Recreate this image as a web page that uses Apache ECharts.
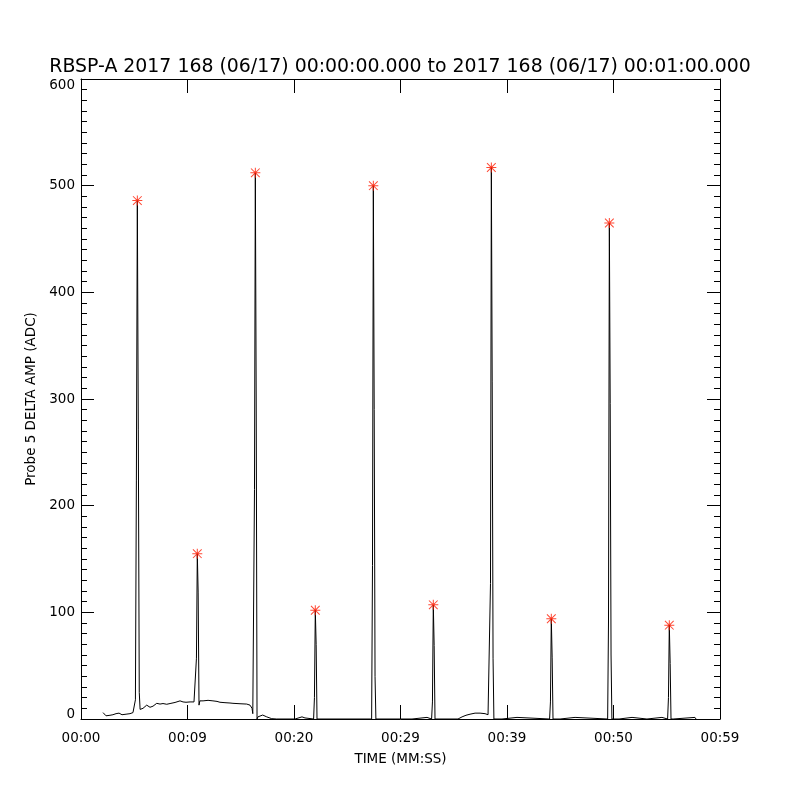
<!DOCTYPE html>
<html>
<head>
<meta charset="utf-8">
<title>RBSP-A Probe 5 delta amp</title>
<script src="https://cdn.jsdelivr.net/npm/echarts@6/dist/echarts.min.js"></script>
<style>
  html, body { margin: 0; padding: 0; background: #fff; }
  #chart { width: 800px; height: 800px; }
</style>
</head>
<body>
<div id="chart"></div>
<script>
// tick labels along time axis (seconds 0..60, every 10)
var timeLabels = ['00:00', '00:09', '00:20', '00:29', '00:39', '00:50', '00:59']

// detected peaks (red asterisks)
var peakTimes = [5.29, 10.92, 16.37, 22.00, 27.45, 33.08, 38.53, 44.16, 49.61, 55.24]
var peakAmps = [486, 155, 512, 102, 500, 107, 517, 94, 465, 88]

// trace, [seconds, ADC]
var trace = [
  [2.07, 6], [2.35, 3], [2.72, 3.5], [3.00, 4], [3.29, 5], [3.57, 5.5], [3.85, 4],
  [4.23, 4.5], [4.60, 5], [4.88, 6],
  [5.03, 7], [5.11, 18], [5.20, 224], [5.29, 486], [5.38, 271], [5.47, 25], [5.55, 9],
  [5.82, 10], [6.17, 13], [6.48, 11], [6.76, 12], [7.11, 14.7], [7.42, 14], [7.70, 14.5],
  [8.05, 13.8], [8.36, 14.5], [8.83, 15.5], [9.30, 17], [9.58, 16], [9.86, 15.7],
  [10.24, 16], [10.61, 16],
  [10.76, 15], [10.84, 57], [10.92, 155], [11.00, 119], [11.08, 13], [11.16, 17],
  [11.46, 17], [11.93, 17.5], [12.39, 17], [12.77, 16.5], [13.05, 15.7], [13.52, 15.3],
  [13.99, 15], [14.27, 14.7], [14.93, 14.3], [15.56, 14], [15.87, 13], [16.06, 10],
  [16.13, 5], [16.21, 4], [16.29, 215], [16.37, 512], [16.45, 300], [16.53, 0], [16.61, 2],
  [17.06, 3.7], [17.44, 2], [17.91, 0.3], [18.38, 0],
  [20.10, 0], [20.28, 1.5], [20.75, 2], [21.03, 1], [21.20, 0],
  [21.84, 0], [21.92, 20], [22.00, 102], [22.08, 70], [22.16, 0],
  [27.29, 0], [27.37, 144], [27.45, 500], [27.53, 290], [27.61, 40], [27.69, 0],
  [31.08, 0], [31.17, 1.5], [32.49, 1.5], [32.58, 0],
  [32.92, 0], [33.00, 16], [33.08, 107], [33.16, 69], [33.24, 0],
  [35.40, 0], [35.78, 2], [36.15, 3.5], [36.53, 4.5], [37.00, 5.5], [37.47, 5.5],
  [37.94, 5], [38.22, 4],
  [38.37, 3], [38.45, 127], [38.53, 517], [38.61, 316], [38.69, 57], [38.77, 0],
  [39.53, 0], [39.62, 1.5], [40.94, 1.5], [41.03, 0],
  [44.00, 0], [44.08, 16], [44.16, 94], [44.24, 58], [44.32, 0],
  [44.98, 0], [45.07, 1.5], [46.39, 1.5], [46.48, 0],
  [49.45, 0], [49.53, 90], [49.61, 465], [49.69, 296], [49.77, 60], [49.85, 0],
  [50.52, 0], [50.61, 1.5], [51.74, 1.5], [51.83, 0],
  [53.14, 0], [53.24, 1.5], [54.55, 1.5], [54.64, 0],
  [55.08, 0], [55.16, 20], [55.24, 88], [55.32, 52], [55.40, 0],
  [55.60, 0], [55.70, 1.5], [57.65, 1.5], [57.75, 0]
]

var font = 'DejaVu Sans'

// asterisk like IDL psym=2, built from thin bars
var asterisk = 'path://M0 4.5H10V5.5H0Z M4.5 0H5.5V10H4.5Z M1 0.3L9.7 9L9 9.7L0.3 1Z M9 0.3L9.7 1L1 9.7L0.3 9Z M3.5 3.5H6.5V6.5H3.5Z'

var peaks = peakTimes.map(function (t, i) {
  return [t, peakAmps[i]]
})

function timeAxis (pos, showLabel) {
  return {
    type: 'value',
    position: pos,
    min: 0,
    max: 60,
    interval: 10,
    name: showLabel ? 'TIME (MM:SS)' : '',
    nameLocation: 'middle',
    nameGap: 33,
    nameTextStyle: { fontFamily: font, fontSize: 13.5, color: '#000' },
    axisLine: { show: true, onZero: false, lineStyle: { color: '#000', width: 1 } },
    axisTick: { show: true, inside: true, length: 14, lineStyle: { color: '#000' } },
    axisLabel: {
      show: showLabel,
      margin: 12,
      fontFamily: font,
      fontSize: 13.5,
      color: '#000',
      formatter: function (value) {
        return timeLabels[Math.round(value / 10)]
      }
    },
    splitLine: { show: false }
  }
}

function ampAxis (pos, showLabel) {
  return {
    type: 'value',
    position: pos,
    min: 0,
    max: 600,
    interval: 100,
    name: showLabel ? 'Probe 5 DELTA AMP (ADC)' : '',
    nameLocation: 'middle',
    nameGap: 40,
    nameTextStyle: { fontFamily: font, fontSize: 13.5, color: '#000' },
    axisLine: { show: true, onZero: false, lineStyle: { color: '#000', width: 1 } },
    axisTick: { show: true, inside: true, length: 13, lineStyle: { color: '#000' } },
    minorTick: { show: true, splitNumber: 10, length: 6, lineStyle: { color: '#000' } },
    axisLabel: {
      show: showLabel,
      margin: 6,
      fontFamily: font,
      fontSize: 13.5,
      color: '#000',
      formatter: function (value) {
        if (value === 0) return '{lo|0}'
        if (value === 600) return '{hi|600}'
        return String(value)
      },
      rich: {
        lo: { fontFamily: font, fontSize: 13.5, color: '#000', padding: [0, 0, 10, 0] },
        hi: { fontFamily: font, fontSize: 13.5, color: '#000', padding: [12, 0, 0, 0] }
      }
    },
    splitLine: { show: false },
    minorSplitLine: { show: false }
  }
}

var option = {
  backgroundColor: '#fff',
  animation: false,
  title: {
    text: 'RBSP-A 2017 168 (06/17) 00:00:00.000 to 2017 168 (06/17) 00:01:00.000',
    left: 'center',
    top: 53,
    textStyle: { fontFamily: font, fontSize: 18.9, fontWeight: 'normal', color: '#000' }
  },
  grid: { left: 81, right: 80, top: 79, bottom: 81 },
  xAxis: [timeAxis('bottom', true), timeAxis('top', false)],
  yAxis: [ampAxis('left', true), ampAxis('right', false)],
  series: [
    {
      type: 'line',
      data: trace,
      showSymbol: false,
      symbol: 'none',
      sampling: 'none',
      lineStyle: { color: '#000', width: 1 }
    },
    {
      type: 'scatter',
      data: peaks,
      symbol: asterisk,
      symbolSize: 10,
      itemStyle: { color: '#ff1a00' },
      z: 5
    }
  ]
}

var myChart = echarts.init(document.getElementById('chart'))
myChart.setOption(option, true)
</script>
</body>
</html>
